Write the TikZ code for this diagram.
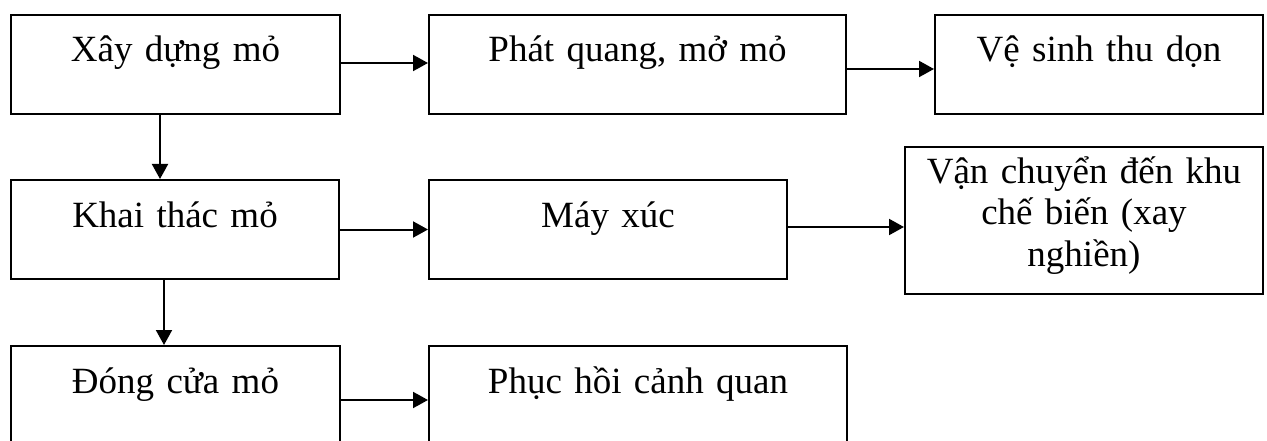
\documentclass[tikz,border=0pt]{standalone}
\usepackage{fontspec}
\setmainfont{Liberation Serif}
\usetikzlibrary{arrows.meta}
\tikzset{
  stagebox/.style={draw, line width=2pt, inner sep=0pt, align=center,
    anchor=north west, font=\fontsize{37}{41}\selectfont},
  flowarrow/.style={line width=2pt, -{Triangle[length=15pt,width=16pt]}}
}
\begin{document}
\begin{tikzpicture}[x=1pt,y=1pt]
\clip (0,0) rectangle (1267,-441);
\fill[white] (0,0) rectangle (1267,-441);
% row 1
\node[stagebox, text width=329pt, text height=47pt, text depth=52pt] (b1) at (10,-14) {Xây dựng mỏ};
\node[stagebox, text width=417pt, text height=47pt, text depth=52pt] (b2) at (428,-14) {Phát quang, mở mỏ};
\node[stagebox, text width=328pt, text height=47pt, text depth=52pt] (b3) at (934,-14) {Vệ sinh thu dọn};
% row 2
\node[stagebox, text width=328pt, text height=47pt, text depth=52pt] (b4) at (10,-179) {Khai thác mỏ};
\node[stagebox, text width=358pt, text height=47pt, text depth=52pt] (b5) at (428,-179) {Máy xúc};
\node[stagebox, text width=358pt, text height=37pt, text depth=110pt] (b6) at (904,-146) {Vận chuyển đến khu\\chế biến (xay\\nghiền)};
% row 3
\node[stagebox, text width=329pt, text height=47pt, text depth=52pt] (b7) at (10,-345) {Đóng cửa mỏ};
\node[stagebox, text width=418pt, text height=47pt, text depth=52pt] (b8) at (428,-345) {Phục hồi cảnh quan};
% arrows
\draw[flowarrow] ([yshift=1.5pt]b1.east) -- ([yshift=1.5pt]b2.west);
\draw[flowarrow] ([yshift=-4.5pt]b2.east) -- ([yshift=-4.5pt]b3.west);
\draw[flowarrow] (b4.east) -- (b4.east -| b5.west);
\draw[flowarrow] ([yshift=2.5pt]b5.east) -- ([yshift=2.5pt]b5.east -| b6.west);
\draw[flowarrow] ([yshift=-4.5pt]b7.east) -- ([yshift=-4.5pt]b7.east -| b8.west);
\draw[flowarrow] ([xshift=-15.5pt]b1.south) -- ([xshift=-15.5pt]b1.south |- b4.north);
\draw[flowarrow] ([xshift=-11pt]b4.south) -- ([xshift=-11pt]b4.south |- b7.north);
\end{tikzpicture}
\end{document}
